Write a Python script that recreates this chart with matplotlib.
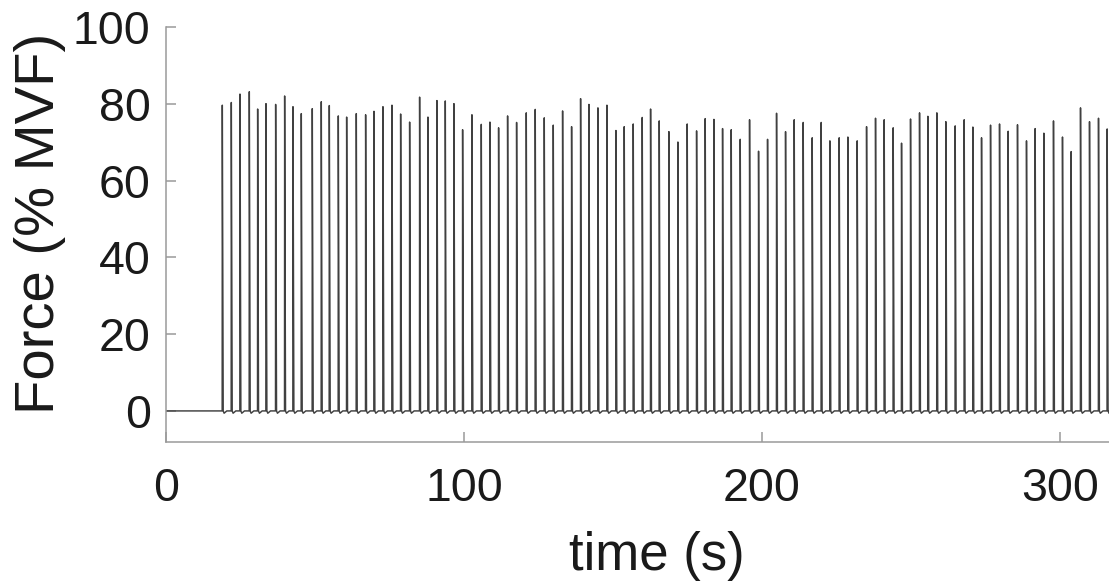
import numpy as np
import matplotlib
matplotlib.use("Agg")
import matplotlib.pyplot as plt

# Peak times (s) and peak forces (% MVF)
peak_times = [
    18.90, 21.92, 24.83, 27.96, 30.76, 33.56, 36.80, 39.82, 42.62, 45.41,
    49.10, 52.12, 54.81, 57.83, 60.63, 63.87, 67.00, 69.80, 72.82, 75.84,
    78.75, 81.77, 85.12, 87.92, 90.94,
    93.74, 96.64, 99.55, 102.68, 105.82, 108.72, 111.63, 114.65, 117.67, 120.92,
    123.93, 126.96, 129.98, 133.11, 136.13, 139.15, 141.95, 144.97, 147.99, 151.01,
    153.80, 156.82, 159.84, 162.64, 165.55,
    168.79, 171.81, 174.94, 178.08, 180.98, 183.89, 186.80, 189.71, 192.73, 195.86,
    198.88, 201.90, 204.92, 207.94, 210.85, 213.87, 216.89, 219.91, 222.82, 225.95,
    228.86, 231.99, 235.13, 238.14,
    241.05, 244.07, 246.87, 249.89, 252.91, 255.70, 258.72, 261.74, 264.88, 267.90,
    270.81, 273.72, 276.74, 279.76, 282.66, 285.79, 288.81, 291.72, 294.63, 297.87,
    300.89, 303.80, 306.94, 309.96, 312.98, 315.89,
]
peak_forces = [
    79.7, 80.4, 82.6, 83.2, 78.7, 80.1, 79.9, 82.1, 79.3, 77.5,
    78.8, 80.6, 79.6, 76.9, 76.6, 77.5, 77.2, 78.1, 79.3, 79.7,
    77.4, 75.3, 81.8, 76.6, 80.9,
    80.8, 80.1, 73.3, 77.2, 74.7, 75.3, 73.8, 76.9, 75.2, 77.7,
    78.6, 76.4, 74.5, 78.2, 74.1, 81.4, 79.9, 79.0, 79.7, 73.1,
    74.1, 74.8, 76.5, 78.7, 75.6,
    72.8, 70.1, 74.8, 73.0, 76.2, 76.0, 73.6, 73.3, 70.8, 75.9,
    67.7, 70.8, 77.6, 72.8, 75.9, 75.2, 71.2, 75.2, 70.4, 71.2,
    71.4, 70.4, 74.1, 76.3,
    75.9, 73.8, 69.8, 76.1, 77.7, 76.8, 77.7, 75.4, 74.3, 75.9,
    74.0, 71.2, 74.5, 74.8, 72.9, 74.6, 70.4, 73.6, 72.4, 75.6,
    71.4, 67.6, 79.0, 75.4, 76.3, 73.5,
]
baseline_level = 0.0
undershoot = -0.6

x_ticks = [0, 100, 200, 300]
y_ticks = [0, 20, 40, 60, 80, 100]

# Build force trace from peaks
t = [0.0]
f = [baseline_level]
for pt, pf in zip(peak_times, peak_forces):
    t += [pt - 0.05, pt, pt + 0.3, pt + 0.6, pt + 1.5]
    f += [baseline_level, pf, baseline_level, undershoot, baseline_level]
t.append(316.5)
f.append(baseline_level)

plt.rcParams['font.family'] = ['Liberation Sans', 'DejaVu Sans']

fig = plt.figure(figsize=(11.09, 5.85), dpi=100)
ax = fig.add_axes([166 / 1109, 1 - 442 / 585, 1 - 166 / 1109, (442 - 27.3) / 585])

ax.plot(t, f, color='#404040', lw=1.05)

ax.set_xlim(0, 316.5)
ax.set_ylim(-8.1, 100)
ax.set_xticks(x_ticks)
ax.set_yticks(y_ticks)

for s in ['top', 'right']:
    ax.spines[s].set_visible(False)
for s in ['left', 'bottom']:
    ax.spines[s].set_color('#9a9a9a')
    ax.spines[s].set_linewidth(1.1)

ax.tick_params(axis='both', direction='in', length=7, width=1.1, color='#9a9a9a',
               labelsize=33.5, labelcolor='#1a1a1a')
ax.tick_params(axis='y', pad=11)
ax.tick_params(axis='x', pad=18)

ax.set_xlabel('time (s)', fontsize=38, color='#1a1a1a')
ax.set_ylabel('Force (% MVF)', fontsize=40.5, color='#1a1a1a')
ax.xaxis.set_label_coords(0.52, -0.215)
ax.yaxis.set_label_coords(-0.106, 0.527)

fig.savefig('out.png', dpi=100)
